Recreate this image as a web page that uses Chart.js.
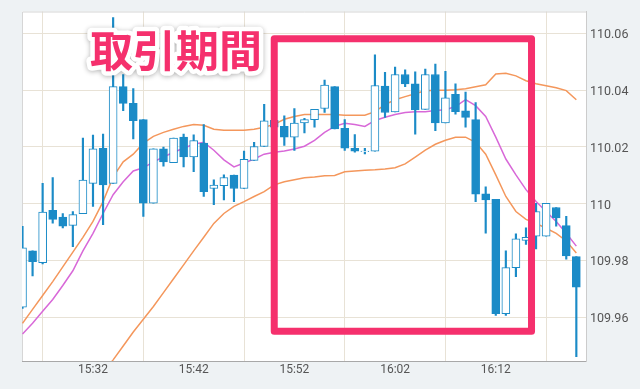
<!DOCTYPE html>
<html>
<head>
<meta charset="utf-8">
<script src="https://cdn.jsdelivr.net/npm/chart.js@4.4.1/dist/chart.umd.min.js"></script>
<style>
  html, body { margin: 0; padding: 0; background: #eef2f4; }
  #rateChart { display: block; }
</style>
</head>
<body>
<canvas id="rateChart" width="640" height="389"></canvas>
<script>
// one candle per minute
var times = ["15:25","15:26","15:27","15:28","15:29","15:30","15:31","15:32","15:33","15:34",
  "15:35","15:36","15:37","15:38","15:39","15:40","15:41","15:42","15:43","15:44",
  "15:45","15:46","15:47","15:48","15:49","15:50","15:51","15:52","15:53","15:54",
  "15:55","15:56","15:57","15:58","15:59","16:00","16:01","16:02","16:03","16:04",
  "16:05","16:06","16:07","16:08","16:09","16:10","16:11","16:12","16:13","16:14",
  "16:15","16:16","16:17","16:18","16:19","16:20"];
var open = [109.9635,109.9833,109.9792,109.9976,109.9952,109.9923,109.9964,110.0071,110.0195,110.0071,
  110.0412,110.0353,110.0296,110.0001,110.0193,110.0144,110.0234,110.0164,110.0213,110.0053,
  110.0063,110.0100,110.0053,110.0152,110.0201,110.0293,110.0272,110.0234,110.0284,110.0296,
  110.0335,110.0412,110.0265,110.0195,110.0183,110.0185,110.0414,110.0323,110.0455,110.0422,
  110.0332,110.0455,110.0284,110.0385,110.0327,110.0296,110.0034,110.0015,109.9612,109.9774,
  109.9870,109.9885,109.9885,109.9986,109.9922,109.9813];
var high = [109.9920,109.9833,110.0071,110.0092,109.9965,109.9972,110.0231,110.0241,110.0245,110.0656,
  110.0455,110.0405,110.0296,110.0193,110.0199,110.0231,110.0245,110.0242,110.0278,110.0084,
  110.0101,110.0100,110.0185,110.0216,110.0350,110.0321,110.0309,110.0335,110.0300,110.0332,
  110.0435,110.0412,110.0296,110.0243,110.0195,110.0524,110.0463,110.0481,110.0471,110.0464,
  110.0474,110.0492,110.0466,110.0422,110.0393,110.0356,110.0059,110.0015,109.9833,109.9893,
  109.9914,110.0001,110.0001,109.9986,109.9955,109.9813];
var low = [109.9630,109.9745,109.9787,109.9931,109.9914,109.9848,109.9964,109.9990,109.9926,110.0071,
  110.0327,110.0228,109.9955,110.0001,110.0132,110.0144,110.0129,110.0112,110.0025,109.9996,
  110.0013,110.0007,110.0053,110.0152,110.0201,110.0251,110.0205,110.0187,110.0249,110.0269,
  110.0321,110.0263,110.0187,110.0181,110.0175,110.0185,110.0304,110.0323,110.0412,110.0245,
  110.0332,110.0257,110.0284,110.0315,110.0269,110.0007,109.9896,109.9606,109.9606,109.9742,
  109.9856,109.9840,109.9885,109.9920,109.9804,109.9460];
var close = [109.9844,109.9795,109.9970,109.9944,109.9920,109.9961,110.0083,110.0193,110.0066,110.0412,
  110.0353,110.0292,110.0001,110.0193,110.0147,110.0231,110.0164,110.0222,110.0042,110.0065,
  110.0092,110.0053,110.0156,110.0201,110.0292,110.0269,110.0234,110.0284,110.0296,110.0332,
  110.0418,110.0263,110.0195,110.0185,110.0185,110.0416,110.0321,110.0455,110.0422,110.0330,
  110.0455,110.0284,110.0373,110.0324,110.0304,110.0033,110.0013,109.9612,109.9774,109.9876,
  109.9881,109.9972,110.0001,109.9949,109.9815,109.9705];
// moving average and bands
var middle = [109.9540,109.9578,109.9620,109.9662,109.9711,109.9763,109.9833,109.9895,109.9965,110.0031,
  110.0077,110.0115,110.0126,110.0147,110.0164,110.0181,110.0195,110.0209,110.0216,110.0188,
  110.0154,110.0129,110.0143,110.0157,110.0174,110.0181,110.0185,110.0192,110.0202,110.0223,
  110.0251,110.0272,110.0283,110.0279,110.0272,110.0293,110.0304,110.0314,110.0321,110.0324,
  110.0324,110.0328,110.0331,110.0342,110.0366,110.0345,110.0307,110.0234,110.0157,110.0101,
  110.0049,110.0007,109.9972,109.9937,109.9895,109.9850];
var upper = [109.9578,109.9627,109.9676,109.9725,109.9777,109.9829,109.9881,109.9937,110.0007,110.0094,
  110.0147,110.0174,110.0213,110.0237,110.0251,110.0262,110.0272,110.0279,110.0276,110.0262,
  110.0258,110.0258,110.0258,110.0262,110.0269,110.0279,110.0297,110.0307,110.0314,110.0314,
  110.0314,110.0314,110.0311,110.0311,110.0311,110.0324,110.0349,110.0366,110.0377,110.0387,
  110.0398,110.0399,110.0399,110.0401,110.0405,110.0412,110.0419,110.0457,110.0459,110.0450,
  110.0433,110.0422,110.0415,110.0408,110.0398,110.0366];
var lower = [null,null,null,null,null,null,null,null,109.9404,109.9449,
  109.9498,109.9547,109.9592,109.9637,109.9686,109.9735,109.9784,109.9833,109.9881,109.9930,
  109.9965,109.9990,110.0007,110.0025,110.0042,110.0066,110.0077,110.0084,110.0091,110.0094,
  110.0098,110.0099,110.0112,110.0115,110.0117,110.0119,110.0122,110.0126,110.0140,110.0164,
  110.0188,110.0209,110.0223,110.0234,110.0234,110.0216,110.0174,110.0101,110.0025,109.9972,
  109.9944,109.9930,109.9913,109.9895,109.9868,109.9826];
var yTicks = [109.96, 109.98, 110, 110.02, 110.04, 110.06];
var xTicks = ["15:32", "15:42", "15:52", "16:02", "16:12"];
var periodText = "取引期間";
var periodFrom = "15:50";
var periodTo = "16:15:33";
var periodTop = 110.0581;
var periodBottom = 109.955;
var textAt = "15:31:42";
var textValue = 110.054;

var blue = "#1b8bc7";
var pink = "#f5306d";

function toMinutes(t) {
  var p = t.split(":");
  return +p[0] * 60 + +p[1] + (p[2] ? +p[2] / 60 : 0);
}
function fromMinutes(m) {
  var h = Math.floor(m / 60);
  var mm = Math.round(m - h * 60);
  return h + ":" + (mm < 10 ? "0" + mm : mm);
}
function pairs(values) {
  var out = [];
  for (var i = 0; i < times.length; i++) {
    out.push({ x: toMinutes(times[i]), y: values[i] });
  }
  return out;
}
function bodies() {
  var out = [];
  for (var i = 0; i < times.length; i++) {
    out.push({ x: toMinutes(times[i]), y: [open[i], close[i]] });
  }
  return out;
}
function wicks() {
  var out = [];
  for (var i = 0; i < times.length; i++) {
    out.push({ x: toMinutes(times[i]), y: [low[i], high[i]] });
  }
  return out;
}

//background, frame and the pink period box
var periodBox = {
  id: "periodBox",
  beforeDraw: function(chart) {
    var ctx = chart.ctx, a = chart.chartArea;
    ctx.save();
    ctx.fillStyle = "#eef2f4";
    ctx.fillRect(0, 0, chart.width, chart.height);
    ctx.fillStyle = "#ffffff";
    ctx.fillRect(a.left, a.top, a.right - a.left, a.bottom - a.top);
    ctx.restore();
  },
  beforeDatasetsDraw: function(chart) {
    var ctx = chart.ctx, a = chart.chartArea;
    ctx.save();
    ctx.strokeStyle = "#d6d6d6";
    ctx.lineWidth = 1;
    ctx.beginPath();
    ctx.moveTo(a.left + 0.5, a.bottom);
    ctx.lineTo(a.left + 0.5, a.top + 0.5);
    ctx.lineTo(a.right, a.top + 0.5);
    ctx.stroke();
    ctx.restore();
  },
  afterDatasetsDraw: function(chart) {
    var ctx = chart.ctx;
    var xs = chart.scales.x, ys = chart.scales.y;
    var x1 = xs.getPixelForValue(toMinutes(periodFrom));
    var x2 = xs.getPixelForValue(toMinutes(periodTo));
    var y1 = ys.getPixelForValue(periodTop);
    var y2 = ys.getPixelForValue(periodBottom);
    ctx.save();
    ctx.strokeStyle = pink;
    ctx.lineWidth = 7;
    ctx.lineJoin = "round";
    ctx.strokeRect(x1, y1, x2 - x1, y2 - y1);

    var tx = xs.getPixelForValue(toMinutes(textAt));
    var ty = ys.getPixelForValue(textValue);
    ctx.font = "bold 43px 'Noto Sans CJK JP'";
    ctx.textAlign = "left";
    ctx.textBaseline = "middle";
    ctx.lineJoin = "round";
    ctx.shadowColor = "rgba(0,0,0,0.3)";
    ctx.shadowBlur = 5;
    ctx.shadowOffsetY = 1;
    ctx.strokeStyle = "#ffffff";
    ctx.lineWidth = 9;
    ctx.strokeText(periodText, tx, ty);
    ctx.shadowColor = "transparent";
    ctx.fillStyle = pink;
    ctx.fillText(periodText, tx, ty);
    ctx.restore();
  }
};

Chart.defaults.font.family = "Roboto";
Chart.defaults.font.size = 12;
Chart.defaults.color = "#555";

var ctx1 = document.getElementById("rateChart");
var chart1 = new Chart(ctx1, {
  type: "bar",
  data: {
    datasets: [
      {
        type: "line",
        data: pairs(upper),
        borderColor: "#f4975c",
        borderWidth: 1.5,
        pointRadius: 0,
        tension: 0,
        order: 5
      },
      {
        type: "line",
        data: pairs(lower),
        borderColor: "#f4975c",
        borderWidth: 1.5,
        pointRadius: 0,
        tension: 0,
        order: 5
      },
      {
        type: "line",
        data: pairs(middle),
        borderColor: "#d868d8",
        borderWidth: 1.5,
        pointRadius: 0,
        tension: 0,
        order: 4
      },
      {
        data: wicks(),
        backgroundColor: blue,
        barThickness: 1.5,
        grouped: false,
        order: 2
      },
      {
        data: bodies(),
        backgroundColor: function(c) {
          var i = c.dataIndex;
          return close[i] >= open[i] ? "#ffffff" : blue;
        },
        borderColor: blue,
        borderWidth: 1,
        borderSkipped: false,
        barThickness: 8,
        grouped: false,
        order: 1
      }
    ]
  },
  options: {
    responsive: false,
    animation: false,
    layout: { padding: { left: 22, top: 8, right: 0, bottom: 0 } },
    plugins: {
      legend: { display: false },
      tooltip: { enabled: false }
    },
    scales: {
      x: {
        type: "linear",
        offset: false,
        min: 924.95,
        max: 980.96,
        afterBuildTicks: function(scale) {
          scale.ticks = xTicks.map(function(t) { return { value: toMinutes(t) }; });
        },
        afterFit: function(scale) { scale.height = 28; },
        ticks: {
          padding: 2,
          maxRotation: 0,
          callback: function(v) { return fromMinutes(v); }
        },
        grid: { color: "#e8e2d6", drawTicks: false },
        border: { color: "#a8a8a8" }
      },
      y: {
        position: "right",
        min: 109.9445,
        max: 110.0677,
        afterBuildTicks: function(scale) {
          scale.ticks = yTicks.map(function(v) { return { value: v }; });
        },
        afterFit: function(scale) { scale.width = 54; },
        ticks: {
          padding: 4,
          labelOffset: 2,
          font: { size: 12.5 },
          callback: function(v) { return String(Number(v.toFixed(2))); }
        },
        grid: { color: "#e8e2d6", drawTicks: false },
        border: { color: "#cccccc" }
      }
    }
  },
  plugins: [periodBox]
});
</script>
</body>
</html>
